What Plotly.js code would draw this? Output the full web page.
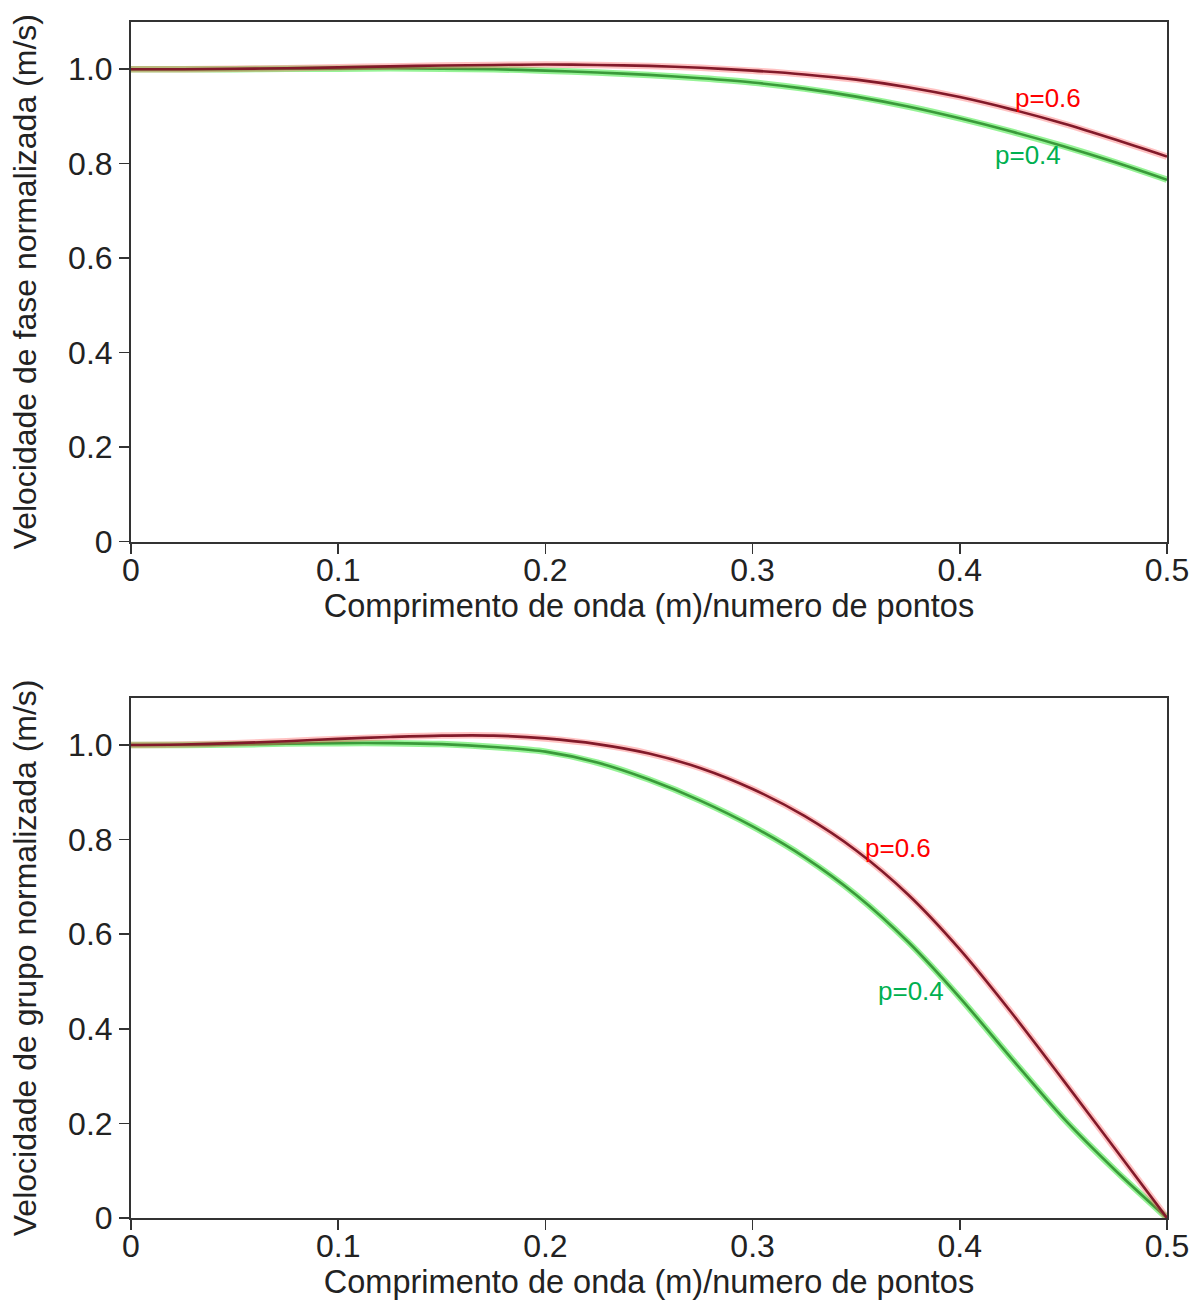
<!DOCTYPE html>
<html>
<head>
<meta charset="utf-8">
<script src="https://cdn.plot.ly/plotly-3.0.1.min.js"></script>
<style>
  html, body { margin: 0; padding: 0; background: #ffffff; }
  #chart { width: 1202px; height: 1300px; }
</style>
</head>
<body>
<div id="chart"></div>
<script>
// ---- data ----
const lambdaRatio = [0, 0.025, 0.05, 0.075, 0.1, 0.125, 0.15, 0.175, 0.2, 0.225, 0.25,
                     0.275, 0.3, 0.325, 0.35, 0.375, 0.4, 0.425, 0.45, 0.475, 0.5];

// Phase velocity (top panel)
const phaseP06 = [1.000, 1.000, 1.001, 1.002, 1.004, 1.006, 1.008, 1.009, 1.010, 1.009, 1.007,
                  1.003, 0.997, 0.989, 0.978, 0.962, 0.941, 0.915, 0.885, 0.851, 0.815];
const phaseP04 = [1.000, 1.000, 1.000, 1.001, 1.001, 1.002, 1.001, 1.000, 0.997, 0.993, 0.988,
                  0.981, 0.972, 0.959, 0.942, 0.921, 0.896, 0.868, 0.837, 0.803, 0.766];

// Group velocity (bottom panel)
const groupP06 = [1.000, 1.001, 1.004, 1.008, 1.013, 1.017, 1.020, 1.020, 1.014, 1.002, 0.982,
                  0.951, 0.907, 0.850, 0.777, 0.684, 0.568, 0.434, 0.291, 0.146, 0.000];
const groupP04 = [1.000, 1.000, 1.001, 1.003, 1.004, 1.004, 1.002, 0.996, 0.986, 0.963, 0.927,
                  0.882, 0.828, 0.763, 0.683, 0.584, 0.466, 0.337, 0.211, 0.101, 0.000];

const xTickVals = [0, 0.1, 0.2, 0.3, 0.4, 0.5];
const xTickText = ['0', '0.1', '0.2', '0.3', '0.4', '0.5'];
const yTickVals = [0, 0.2, 0.4, 0.6, 0.8, 1.0];
const yTickText = ['0', '0.2', '0.4', '0.6', '0.8', '1.0'];

const seriesLabels = ['p=0.6', 'p=0.4'];
const xTitle = 'Comprimento de onda (m)/numero de pontos';
const yTitleTop = 'Velocidade de fase normalizada (m/s)';
const yTitleBottom = 'Velocidade de grupo normalizada (m/s)';

// ---- styling ----
const FONT = 'Liberation Sans, Arial, Helvetica, sans-serif';
const TXT = '#222222';
const RED_HALO = 'rgba(255,80,80,0.35)';
const RED_CORE = '#821a2a';
const GREEN_HALO = 'rgba(80,235,80,0.6)';
const GREEN_CORE = '#3a9a3a';
const LABEL_RED = '#ff0000';
const LABEL_GREEN = '#00b050';

function line(y, xa, ya, color, width) {
  return {
    x: lambdaRatio, y: y, xaxis: xa, yaxis: ya, type: 'scatter', mode: 'lines',
    line: { color: color, width: width, shape: 'spline', smoothing: 0.8 },
    hoverinfo: 'skip', showlegend: false
  };
}

const traces = [
  line(phaseP04, 'x', 'y', GREEN_HALO, 6.5),
  line(phaseP04, 'x', 'y', GREEN_CORE, 2.6),
  line(phaseP06, 'x', 'y', RED_HALO, 6.5),
  line(phaseP06, 'x', 'y', RED_CORE, 2.6),
  line(groupP04, 'x2', 'y2', GREEN_HALO, 6.5),
  line(groupP04, 'x2', 'y2', GREEN_CORE, 2.6),
  line(groupP06, 'x2', 'y2', RED_HALO, 6.5),
  line(groupP06, 'x2', 'y2', RED_CORE, 2.6)
];

function xAxis(anchor) {
  return {
    anchor: anchor, domain: [0, 1], range: [0, 0.5],
    tickvals: xTickVals, ticktext: xTickText,
    ticks: 'outside', ticklen: 10, tickwidth: 1.5, tickcolor: '#333',
    ticklabelstandoff: -11,
    showline: true, mirror: true, linecolor: '#333', linewidth: 2,
    showgrid: false, zeroline: false,
    tickfont: { family: FONT, size: 32, color: TXT },
    title: { text: xTitle, font: { family: FONT, size: 32.5, color: TXT }, standoff: 4 }
  };
}
function yAxis(anchor, domain, title) {
  return {
    anchor: anchor, domain: domain, range: [0, 1.1],
    tickvals: yTickVals, ticktext: yTickText,
    ticks: 'outside', ticklen: 10, tickwidth: 1.5, tickcolor: '#333',
    showline: true, mirror: true, linecolor: '#333', linewidth: 2,
    showgrid: false, zeroline: false,
    tickfont: { family: FONT, size: 32, color: TXT },
    title: { text: title, font: { family: FONT, size: 32, color: TXT }, standoff: 22 }
  };
}

function label(text, x, y, xref, yref, color) {
  return {
    text: text, x: x, y: y, xref: xref, yref: yref,
    xanchor: 'left', yanchor: 'middle', showarrow: false,
    font: { family: FONT, size: 26, color: color }
  };
}

const layout = {
  width: 1202, height: 1300,
  margin: { l: 131, r: 35, t: 22, b: 82 },
  paper_bgcolor: '#ffffff', plot_bgcolor: '#ffffff',
  showlegend: false,
  xaxis: xAxis('y'),
  yaxis: yAxis('x', [0.5656, 1], yTitleTop),
  xaxis2: xAxis('y2'),
  yaxis2: yAxis('x2', [0, 0.435], yTitleBottom),
  annotations: [
    label(seriesLabels[0], 0.4255, 0.940, 'x', 'y', LABEL_RED),
    label(seriesLabels[1], 0.4160, 0.818, 'x', 'y', LABEL_GREEN),
    label(seriesLabels[0], 0.3534, 0.782, 'x2', 'y2', LABEL_RED),
    label(seriesLabels[1], 0.3596, 0.480, 'x2', 'y2', LABEL_GREEN)
  ]
};

Plotly.newPlot('chart', traces, layout, { displayModeBar: false, staticPlot: true });
</script>
</body>
</html>
